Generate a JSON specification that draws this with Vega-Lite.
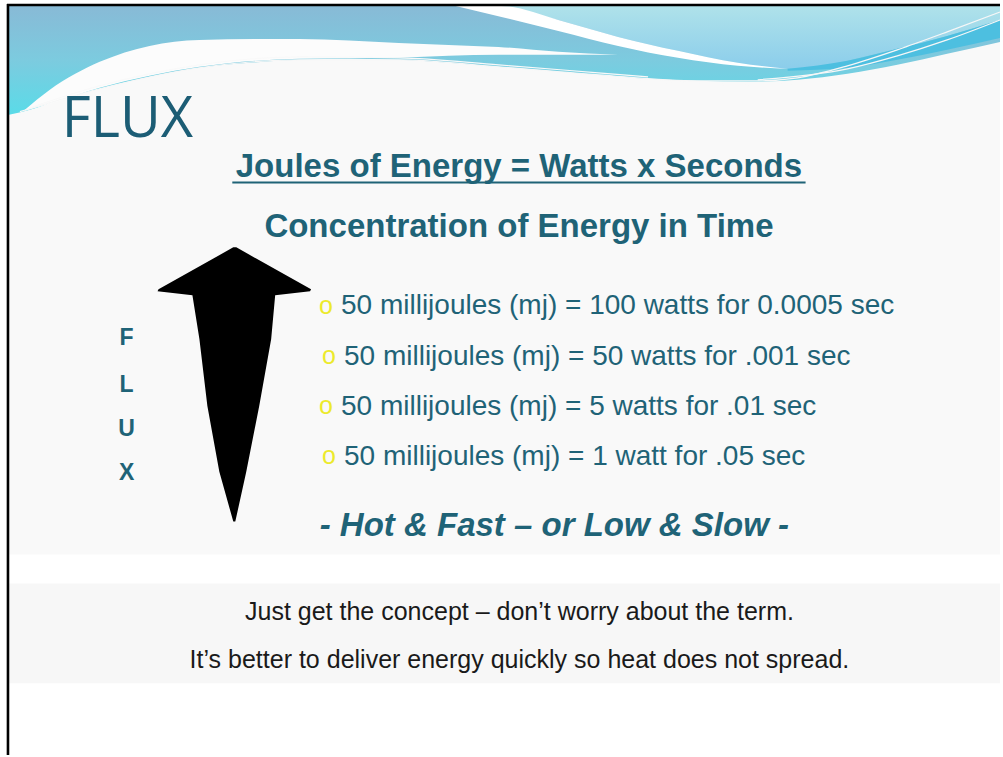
{
  "$schema": "https://vega.github.io/schema/vega-lite/v6.json",
  "width": 1003,
  "height": 757,
  "autosize": {"type": "fit", "contains": "padding"},
  "padding": 0,
  "background": "#ffffff",
  "config": {"view": {"stroke": null}},
  "datasets": {
    "panels": [
      {"name": "slide", "x": 9, "x2": 1003, "y": 6, "y2": 556},
      {"name": "notes", "x": 9, "x2": 1003, "y": 585, "y2": 685}
    ],
    "wave": [
      {"x": 9, "top": 6, "bot": 115},
      {"x": 30, "top": 6, "bot": 110},
      {"x": 60, "top": 6, "bot": 100},
      {"x": 100, "top": 6, "bot": 89},
      {"x": 150, "top": 6, "bot": 77},
      {"x": 200, "top": 6, "bot": 68},
      {"x": 250, "top": 6, "bot": 63},
      {"x": 300, "top": 6, "bot": 60},
      {"x": 350, "top": 6, "bot": 59},
      {"x": 400, "top": 6, "bot": 60},
      {"x": 450, "top": 6, "bot": 63},
      {"x": 500, "top": 6, "bot": 67},
      {"x": 550, "top": 6, "bot": 71},
      {"x": 600, "top": 6, "bot": 75},
      {"x": 650, "top": 6, "bot": 79},
      {"x": 700, "top": 6, "bot": 81},
      {"x": 750, "top": 6, "bot": 82},
      {"x": 800, "top": 6, "bot": 80},
      {"x": 850, "top": 6, "bot": 74},
      {"x": 900, "top": 6, "bot": 65},
      {"x": 950, "top": 6, "bot": 54},
      {"x": 1003, "top": 6, "bot": 42}
    ],
    "swoosh": [
      {"x": 25, "top": 110, "bot": 111},
      {"x": 50, "top": 90, "bot": 104},
      {"x": 100, "top": 62, "bot": 88},
      {"x": 150, "top": 46, "bot": 76},
      {"x": 200, "top": 40, "bot": 67},
      {"x": 300, "top": 39, "bot": 59},
      {"x": 400, "top": 43, "bot": 58},
      {"x": 450, "top": 45, "bot": 56},
      {"x": 500, "top": 47, "bot": 55},
      {"x": 560, "top": 52, "bot": 55},
      {"x": 620, "top": 55, "bot": 55}
    ],
    "light": [
      {"x": 503, "top": 6, "bot": 6},
      {"x": 560, "top": 6, "bot": 20},
      {"x": 620, "top": 6, "bot": 37},
      {"x": 680, "top": 6, "bot": 51},
      {"x": 740, "top": 6, "bot": 63},
      {"x": 790, "top": 6, "bot": 69},
      {"x": 830, "top": 6, "bot": 66},
      {"x": 850, "top": 6, "bot": 61},
      {"x": 900, "top": 6, "bot": 49},
      {"x": 950, "top": 6, "bot": 36},
      {"x": 1003, "top": 6, "bot": 20}
    ],
    "diag": [
      {"x": 457, "top": 6, "bot": 6},
      {"x": 503, "top": 6, "bot": 17},
      {"x": 560, "top": 20, "bot": 31},
      {"x": 620, "top": 37, "bot": 46},
      {"x": 680, "top": 51, "bot": 58},
      {"x": 740, "top": 63, "bot": 66},
      {"x": 790, "top": 69, "bot": 69}
    ],
    "stripe": [
      {"x": 790, "top": 69, "bot": 71},
      {"x": 850, "top": 61, "bot": 68},
      {"x": 900, "top": 49, "bot": 60},
      {"x": 950, "top": 36, "bot": 50},
      {"x": 1003, "top": 20, "bot": 38}
    ],
    "lines": [
      {"k": "a", "x": 30, "y": 108}, {"k": "a", "x": 100, "y": 86}, {"k": "a", "x": 200, "y": 65}, {"k": "a", "x": 300, "y": 57}, {"k": "a", "x": 400, "y": 58}, {"k": "a", "x": 500, "y": 65}, {"k": "a", "x": 600, "y": 73}, {"k": "a", "x": 650, "y": 77},
      {"k": "b", "x": 20, "y": 112}, {"k": "b", "x": 100, "y": 89}, {"k": "b", "x": 200, "y": 68}, {"k": "b", "x": 300, "y": 60}, {"k": "b", "x": 400, "y": 60}, {"k": "b", "x": 500, "y": 67}, {"k": "b", "x": 600, "y": 75}, {"k": "b", "x": 700, "y": 81}, {"k": "b", "x": 760, "y": 81}, {"k": "b", "x": 800, "y": 78}, {"k": "b", "x": 850, "y": 66}, {"k": "b", "x": 900, "y": 50}, {"k": "b", "x": 950, "y": 32}, {"k": "b", "x": 1003, "y": 12},
      {"k": "c", "x": 600, "y": 78}, {"k": "c", "x": 700, "y": 84}, {"k": "c", "x": 760, "y": 85}, {"k": "c", "x": 820, "y": 82}, {"k": "c", "x": 850, "y": 79},
      {"k": "d", "x": 760, "y": 80}, {"k": "d", "x": 850, "y": 69}, {"k": "d", "x": 900, "y": 56}, {"k": "d", "x": 950, "y": 40}, {"k": "d", "x": 1003, "y": 20}
    ],
    "arrow": [
      {"y": 248, "xl": 234, "xr": 237},
      {"y": 290, "xl": 159, "xr": 312},
      {"y": 292, "xl": 158, "xr": 311},
      {"y": 296, "xl": 193, "xr": 276},
      {"y": 340, "xl": 200, "xr": 272},
      {"y": 407, "xl": 208, "xr": 260},
      {"y": 473, "xl": 220, "xr": 247},
      {"y": 523, "xl": 234, "xr": 236}
    ],
    "border": [
      {"x": 7, "x2": 1003, "y": 5, "y2": 5, "w": "top"},
      {"x": 8, "x2": 8, "y": 4, "y2": 757, "w": "left"}
    ],
    "underline": [{"x": 233, "x2": 808, "y": 183}],
    "title": [{"x": 62, "y": 137, "t": "FLUX"}],
    "heads": [
      {"x": 520.5, "y": 177, "t": "Joules of Energy = Watts x Seconds"},
      {"x": 520.5, "y": 238, "t": "Concentration of Energy in Time"}
    ],
    "vert": [
      {"x": 127, "y": 346, "t": "F"},
      {"x": 127, "y": 393, "t": "L"},
      {"x": 127, "y": 437, "t": "U"},
      {"x": 127, "y": 481, "t": "X"}
    ],
    "bullets": [
      {"x": 320, "y": 315, "t": "o"},
      {"x": 323, "y": 365, "t": "o"},
      {"x": 320, "y": 415, "t": "o"},
      {"x": 323, "y": 465, "t": "o"}
    ],
    "items": [
      {"x": 342, "y": 315, "t": "50 millijoules (mj) = 100 watts for 0.0005 sec"},
      {"x": 345, "y": 366, "t": "50 millijoules (mj) = 50 watts for .001 sec"},
      {"x": 342, "y": 416, "t": "50 millijoules (mj) = 5 watts for .01 sec"},
      {"x": 345, "y": 466, "t": "50 millijoules (mj) = 1 watt for .05 sec"}
    ],
    "hot": [{"x": 556, "y": 537, "t": "- Hot & Fast \u2013 or Low & Slow -"}],
    "notes": [
      {"x": 521, "y": 622, "t": "Just get the concept \u2013 don\u2019t worry about the term."},
      {"x": 521, "y": 670, "t": "It\u2019s better to deliver energy quickly so heat does not spread."}
    ]
  },
  "encoding": {
    "x": {"type": "quantitative", "scale": {"domain": [0, 1003], "nice": false, "zero": false}, "axis": null},
    "y": {"type": "quantitative", "scale": {"domain": [0, 757], "nice": false, "zero": false, "reverse": true}, "axis": null}
  },
  "layer": [
    {
      "data": {"name": "panels"},
      "mark": {"type": "rect"},
      "encoding": {
        "x": {"field": "x", "type": "quantitative"},
        "x2": {"field": "x2"},
        "y": {"field": "y", "type": "quantitative"},
        "y2": {"field": "y2"},
        "color": {"field": "name", "type": "nominal", "scale": {"domain": ["slide", "notes"], "range": ["#f9f9f9", "#f7f7f7"]}, "legend": null}
      }
    },
    {
      "data": {"name": "wave"},
      "mark": {"type": "area", "orient": "vertical", "interpolate": "monotone", "color": {"gradient": "linear", "x1": 0, "y1": 0, "x2": 0, "y2": 1, "stops": [{"offset": 0, "color": "#88bad6"}, {"offset": 0.5, "color": "#7ccbdf"}, {"offset": 1, "color": "#5adbe8"}]}},
      "encoding": {
        "x": {"field": "x", "type": "quantitative"},
        "y": {"field": "top", "type": "quantitative"},
        "y2": {"field": "bot"}
      }
    },
    {
      "data": {"name": "light"},
      "mark": {"type": "area", "orient": "vertical", "interpolate": "monotone", "color": {"gradient": "linear", "x1": 0, "y1": 0, "x2": 0, "y2": 1, "stops": [{"offset": 0, "color": "#afe2ea"}, {"offset": 1, "color": "#8bcdeb"}]}},
      "encoding": {
        "x": {"field": "x", "type": "quantitative"},
        "y": {"field": "top", "type": "quantitative"},
        "y2": {"field": "bot"}
      }
    },
    {
      "data": {"name": "stripe"},
      "mark": {"type": "area", "orient": "vertical", "interpolate": "monotone", "color": "#4dbfe0"},
      "encoding": {
        "x": {"field": "x", "type": "quantitative"},
        "y": {"field": "top", "type": "quantitative"},
        "y2": {"field": "bot"}
      }
    },
    {
      "data": {"name": "diag"},
      "mark": {"type": "area", "orient": "vertical", "interpolate": "monotone", "color": "#ffffff"},
      "encoding": {
        "x": {"field": "x", "type": "quantitative"},
        "y": {"field": "top", "type": "quantitative"},
        "y2": {"field": "bot"}
      }
    },
    {
      "data": {"name": "swoosh"},
      "mark": {"type": "area", "orient": "vertical", "color": "#fcfcfc", "interpolate": "monotone"},
      "encoding": {
        "x": {"field": "x", "type": "quantitative"},
        "y": {"field": "top", "type": "quantitative"},
        "y2": {"field": "bot"}
      }
    },
    {
      "data": {"name": "lines"},
      "mark": {"type": "line", "strokeWidth": 1.2, "interpolate": "monotone"},
      "encoding": {
        "x": {"field": "x", "type": "quantitative"},
        "y": {"field": "y", "type": "quantitative"},
        "detail": {"field": "k"},
        "color": {"field": "k", "type": "nominal", "scale": {"domain": ["a", "b", "c", "d"], "range": ["#5a88c0", "#3cc4b8", "#c4c4c4", "#4aa8c8"]}, "legend": null}
      }
    },
    {
      "data": {"name": "border"},
      "mark": {"type": "rule", "color": "#000000", "strokeWidth": 2.6},
      "encoding": {
        "x": {"field": "x", "type": "quantitative"},
        "x2": {"field": "x2"},
        "y": {"field": "y", "type": "quantitative"},
        "y2": {"field": "y2"}
      }
    },
    {
      "data": {"name": "arrow"},
      "mark": {"type": "area", "orient": "horizontal", "color": "#000000"},
      "encoding": {
        "y": {"field": "y", "type": "quantitative"},
        "x": {"field": "xl", "type": "quantitative"},
        "x2": {"field": "xr"}
      }
    },
    {
      "data": {"name": "underline"},
      "mark": {"type": "rule", "color": "#1f6377", "strokeWidth": 2.2},
      "encoding": {
        "x": {"field": "x", "type": "quantitative"},
        "x2": {"field": "x2"},
        "y": {"field": "y", "type": "quantitative"}
      }
    },
    {
      "data": {"name": "title"},
      "mark": {"type": "text", "align": "left", "baseline": "alphabetic", "font": "Open Sans", "fontSize": 56, "fontWeight": 400, "color": "#1c5d75"},
      "encoding": {
        "x": {"field": "x", "type": "quantitative"},
        "y": {"field": "y", "type": "quantitative"},
        "text": {"field": "t"}
      }
    },
    {
      "data": {"name": "heads"},
      "mark": {"type": "text", "align": "center", "baseline": "alphabetic", "font": "Liberation Sans", "fontSize": 33, "fontWeight": "bold", "color": "#1f6377"},
      "encoding": {
        "x": {"field": "x", "type": "quantitative"},
        "y": {"field": "y", "type": "quantitative"},
        "text": {"field": "t"}
      }
    },
    {
      "data": {"name": "vert"},
      "mark": {"type": "text", "align": "center", "baseline": "alphabetic", "font": "Liberation Sans", "fontSize": 23, "fontWeight": "bold", "color": "#1f6377"},
      "encoding": {
        "x": {"field": "x", "type": "quantitative"},
        "y": {"field": "y", "type": "quantitative"},
        "text": {"field": "t"}
      }
    },
    {
      "data": {"name": "bullets"},
      "mark": {"type": "text", "align": "left", "baseline": "alphabetic", "font": "Liberation Sans", "fontSize": 25, "color": "#ecea2c"},
      "encoding": {
        "x": {"field": "x", "type": "quantitative"},
        "y": {"field": "y", "type": "quantitative"},
        "text": {"field": "t"}
      }
    },
    {
      "data": {"name": "items"},
      "mark": {"type": "text", "align": "left", "baseline": "alphabetic", "font": "Liberation Sans", "fontSize": 28, "color": "#1f6377"},
      "encoding": {
        "x": {"field": "x", "type": "quantitative"},
        "y": {"field": "y", "type": "quantitative"},
        "text": {"field": "t"}
      }
    },
    {
      "data": {"name": "hot"},
      "mark": {"type": "text", "align": "center", "baseline": "alphabetic", "font": "Liberation Sans", "fontSize": 33, "fontWeight": "bold", "fontStyle": "italic", "color": "#1f6377"},
      "encoding": {
        "x": {"field": "x", "type": "quantitative"},
        "y": {"field": "y", "type": "quantitative"},
        "text": {"field": "t"}
      }
    },
    {
      "data": {"name": "notes"},
      "mark": {"type": "text", "align": "center", "baseline": "alphabetic", "font": "Liberation Sans", "fontSize": 25, "color": "#1a1a1a"},
      "encoding": {
        "x": {"field": "x", "type": "quantitative"},
        "y": {"field": "y", "type": "quantitative"},
        "text": {"field": "t"}
      }
    }
  ]
}
